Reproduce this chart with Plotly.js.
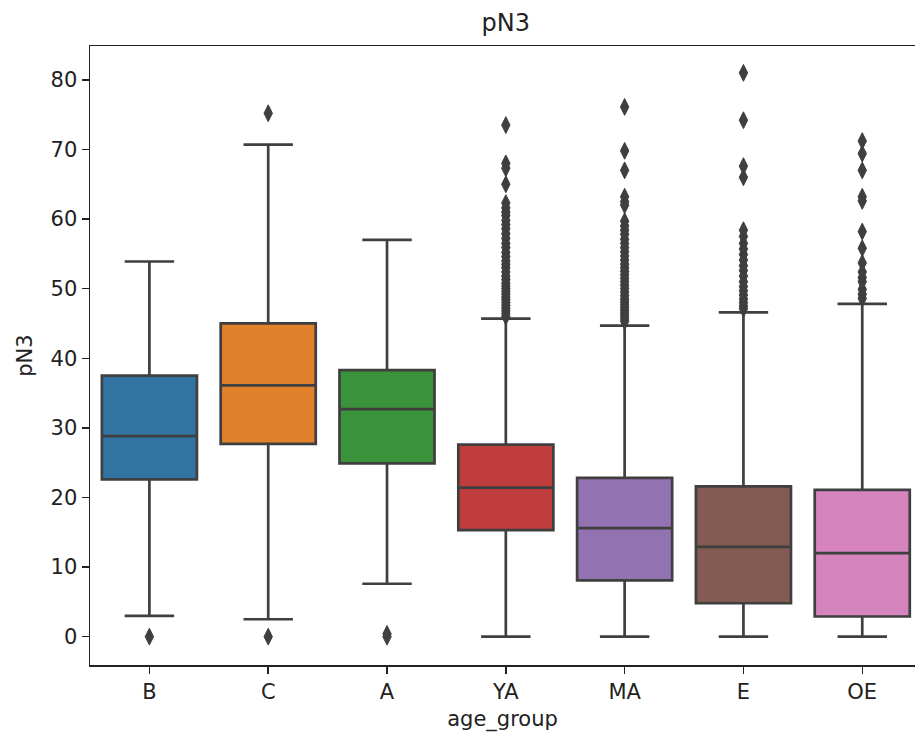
<!DOCTYPE html>
<html>
<head>
<meta charset="utf-8">
<script src="https://cdn.plot.ly/plotly-3.0.1.min.js"></script>
<style>body{margin:0;padding:0;background:#fff;}#chart{width:915px;height:740px;}</style>
</head>
<body>
<div id="chart"></div>
<script>
const categories = ["B", "C", "A", "YA", "MA", "E", "OE"];
const colors = ["#3274a1", "#e1812c", "#3a923a", "#c03d3e", "#9372b2", "#845b53", "#d684bd"];
const q1 = [22.6, 27.7, 24.9, 15.3, 8.1, 4.8, 2.9];
const median = [28.8, 36.1, 32.7, 21.4, 15.6, 12.9, 12.0];
const q3 = [37.5, 45.0, 38.3, 27.6, 22.8, 21.6, 21.1];
const lowerWhisker = [3.0, 2.5, 7.6, 0.0, 0.0, 0.0, 0.0];
const upperWhisker = [53.9, 70.7, 57.0, 45.7, 44.7, 46.6, 47.8];

const outliersB = [0.0];
const outliersC = [0.0, 75.2];
const outliersA = [0.0, 0.4];
const outliersYA = [73.5, 68.0, 67.3, 65.0, 62.3, 61.6, 61.0, 60.5, 59.8, 59.2, 58.6, 57.9, 57.2, 56.5, 55.9, 55.2, 54.6, 54.0, 53.5, 53.0, 52.4, 51.8, 51.3, 50.8, 50.4, 50.0, 49.6, 49.2, 48.8, 48.4, 48.0, 47.6, 47.2, 46.8, 46.4, 46.0];
const outliersMA = [76.1, 69.8, 67.0, 63.2, 62.5, 62.0, 59.7, 59.0, 58.4, 57.8, 57.1, 56.5, 55.9, 55.3, 54.7, 54.1, 53.5, 53.0, 52.5, 52.0, 51.5, 51.0, 50.5, 50.0, 49.5, 49.0, 48.5, 48.1, 47.7, 47.3, 46.9, 46.5, 46.1, 45.7, 45.3];
const outliersE = [81.0, 74.2, 67.6, 66.0, 58.4, 57.5, 56.5, 55.7, 54.9, 54.1, 53.3, 52.6, 51.8, 51.0, 50.3, 49.7, 49.1, 48.5, 48.0, 47.5, 47.1];
const outliersOE = [71.2, 69.4, 67.0, 63.2, 62.6, 58.2, 55.8, 53.7, 52.4, 51.6, 51.0, 49.9, 49.2, 48.6];
const outlierLists = [outliersB, outliersC, outliersA, outliersYA, outliersMA, outliersE, outliersOE];

const edge = "#3f3f3f";
const traces = [];
categories.forEach((c, i) => {
  traces.push({
    type: "box",
    x: [c],
    q1: [q1[i]], median: [median[i]], q3: [q3[i]],
    lowerfence: [lowerWhisker[i]], upperfence: [upperWhisker[i]],
    boxpoints: false,
    fillcolor: colors[i],
    line: {color: edge, width: 2.7},
    width: 0.8,
    whiskerwidth: 0.52,
    showlegend: false,
    hoverinfo: "skip"
  });
});
const ox = [], oy = [];
outlierLists.forEach((arr, i) => arr.forEach(v => { ox.push(categories[i]); oy.push(v); }));
traces.push({
  type: "scatter", mode: "markers", x: ox, y: oy,
  marker: {symbol: "diamond-tall", size: 12, color: edge, line: {color: edge, width: 1}},
  showlegend: false, hoverinfo: "skip"
});

const font = {family: "DejaVu Sans, sans-serif", size: 21, color: "#222"};
const layout = {
  width: 915, height: 740,
  margin: {l: 90, r: 0, t: 46, b: 75},
  paper_bgcolor: "#fff", plot_bgcolor: "#fff",
  font: font,
  showlegend: false,
  title: {text: "pN3", font: {family: "DejaVu Sans, sans-serif", size: 24, color: "#222"}, x: 0.504, xref: "paper", xanchor: "center", y: 0.97, yref: "container", yanchor: "middle"},
  xaxis: {
    type: "category", categoryorder: "array", categoryarray: categories,
    range: [-0.5, 6.444],
    showline: true, linecolor: "#222", linewidth: 1.5, mirror: true,
    ticks: "outside", ticklen: 7, tickwidth: 1.5, tickcolor: "#222",
    showgrid: false, zeroline: false,
    tickfont: font,
    title: {text: "age_group", font: font, standoff: 8}
  },
  yaxis: {
    range: [-4.07, 84.86],
    tickvals: [0, 10, 20, 30, 40, 50, 60, 70, 80],
    showline: true, linecolor: "#222", linewidth: 1.5, mirror: false,
    ticks: "outside", ticklen: 7, tickwidth: 1.5, tickcolor: "#222",
    showgrid: false, zeroline: false,
    tickfont: font,
    title: {text: "pN3", font: font, standoff: 12}
  },
  boxmode: "overlay"
};
Plotly.newPlot("chart", traces, layout, {displayModeBar: false, staticPlot: true});
</script>
</body>
</html>
